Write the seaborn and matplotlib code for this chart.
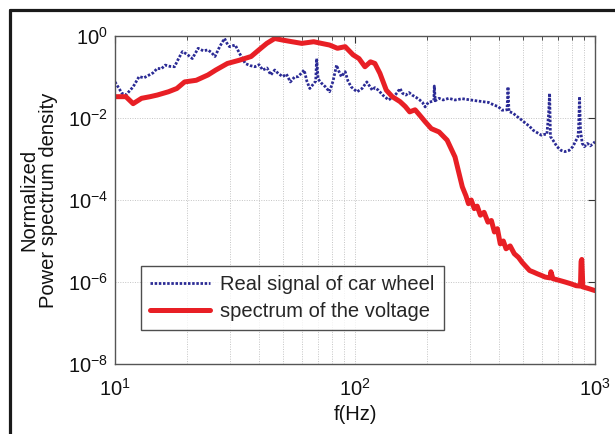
import numpy as np
import pandas as pd
import matplotlib
matplotlib.use("Agg")
import matplotlib.pyplot as plt
import seaborn as sns
from matplotlib.ticker import LogLocator, LogFormatterMathtext, NullFormatter

# Frequency (Hz) and log10 of normalized PSD for the measured wheel signal
wheel_freq = [10, 10.7, 11.1, 11.9, 12.6, 13.2, 13.9, 14.4, 15, 15.6, 16.2,
              16.9, 17.7, 18.4, 19.1, 20, 21, 22.2, 23.3, 24.4, 25.2, 26.1,
              27.3, 28.6, 29.3, 30, 31.7, 33, 34.9, 36.5, 38.3, 39.8, 41.3,
              43, 44.6, 46.3, 48, 50, 51.8, 53.8, 56, 58, 61.4, 63, 64.8, 68.6,
              69.2, 70.2, 72.5, 75.3, 78.3, 81, 83.8, 85.5, 87.7, 91, 93.5,
              96.4, 99, 102, 107, 112, 115, 118, 121, 125, 131, 138, 145, 150,
              154, 158, 163, 168, 173, 180, 186, 191, 196, 202, 208, 213, 214,
              216, 224, 233, 246, 261, 280, 303, 320, 340, 360, 381, 395, 410,
              430, 434, 438, 455, 475, 495, 514, 533, 553, 575, 598, 615, 630,
              640, 647, 652, 668, 695, 722, 750, 780, 808, 835, 850, 855, 862,
              870, 885, 903, 930, 955, 975, 1000]
wheel_logp = [-1.12, -1.40, -1.44, -1.24, -0.99, -1.02, -0.95, -0.90, -0.79,
              -0.80, -0.71, -0.74, -0.75, -0.55, -0.38, -0.45, -0.55, -0.30,
              -0.36, -0.34, -0.40, -0.50, -0.26, -0.06, -0.18, -0.26, -0.22,
              -0.42, -0.67, -0.72, -0.75, -0.70, -0.83, -0.78, -0.95, -0.83,
              -0.92, -0.99, -0.93, -1.12, -1.00, -0.99, -0.83, -1.10, -1.28,
              -1.10, -0.55, -1.05, -1.15, -1.24, -1.36, -1.10, -0.71, -0.85,
              -0.99, -0.87, -1.10, -1.24, -1.30, -1.36, -1.28, -1.12, -1.22,
              -1.32, -1.26, -1.32, -1.45, -1.56, -1.48, -1.38, -1.28, -1.40,
              -1.44, -1.38, -1.44, -1.50, -1.56, -1.62, -1.73, -1.62, -1.60,
              -1.58, -1.22, -1.58, -1.52, -1.56, -1.52, -1.56, -1.53, -1.56,
              -1.58, -1.60, -1.62, -1.69, -1.72, -1.81, -1.80, -1.24, -1.84,
              -1.88, -1.97, -2.05, -2.13, -2.20, -2.30, -2.36, -2.42, -2.40,
              -2.40, -1.95, -1.40, -2.45, -2.54, -2.70, -2.79, -2.82, -2.79,
              -2.70, -2.54, -2.45, -2.20, -1.48, -2.30, -2.62, -2.70, -2.62,
              -2.68, -2.64, -2.58]

# Frequency (Hz) and log10 of normalized PSD for the voltage spectrum
volt_freq = [10, 11.1, 11.9, 12.9, 14, 15, 16.7, 18.1, 19.5, 21.8, 24.4, 26.3,
             29.4, 33, 36.9, 40.5, 42.9, 46.3, 50, 54.7, 60, 67.3, 72.5, 78.3,
             84.5, 91, 98.2, 103.9, 110, 116, 121, 127, 135, 143, 154, 162,
             169, 178, 186, 196, 208, 224, 242, 261, 280, 290, 297, 305, 314,
             323, 333, 345, 358, 370, 381, 392, 403, 415, 426, 443, 461, 480,
             497, 515, 534, 555, 575, 598, 620, 650, 655, 668, 700, 750, 790,
             835, 870, 875, 881, 890, 940, 1000]
volt_logp = [-1.48, -1.48, -1.65, -1.52, -1.48, -1.44, -1.36, -1.28, -1.12,
             -1.08, -0.95, -0.83, -0.67, -0.59, -0.50, -0.30, -0.18, -0.06,
             -0.10, -0.14, -0.18, -0.14, -0.18, -0.22, -0.30, -0.26, -0.46,
             -0.55, -0.75, -0.63, -0.67, -0.91, -1.32, -1.48, -1.60, -1.72,
             -1.85, -1.80, -1.93, -2.09, -2.26, -2.34, -2.54, -2.95, -3.68,
             -3.90, -4.09, -4.00, -4.21, -4.15, -4.37, -4.30, -4.54, -4.50,
             -4.78, -4.70, -5.07, -5.00, -5.19, -5.12, -5.31, -5.40, -5.52,
             -5.62, -5.72, -5.76, -5.80, -5.84, -5.88, -5.90, -5.75, -5.92,
             -5.95, -6.00, -6.04, -6.09, -6.10, -5.50, -5.45, -6.12, -6.16,
             -6.21]

df_wheel = pd.DataFrame({"f": wheel_freq, "psd": np.power(10.0, wheel_logp)})
df_volt = pd.DataFrame({"f": volt_freq, "psd": np.power(10.0, volt_logp)})

sns.set_theme(style="white")
plt.rcParams["font.family"] = ["Liberation Sans", "DejaVu Sans"]
plt.rcParams["mathtext.fontset"] = "custom"
plt.rcParams["mathtext.rm"] = "Liberation Sans"
plt.rcParams["mathtext.default"] = "regular"
plt.rcParams["axes.unicode_minus"] = False

fig = plt.figure(figsize=(6.15, 4.34), dpi=100)
fig.patch.set_facecolor("white")
ax = fig.add_axes([115 / 615, 70 / 434, 480 / 615, 328 / 434])

blue = "#2b2b95"
red = "#e81f25"

sns.lineplot(data=df_wheel, x="f", y="psd", ax=ax, color=blue, lw=2.0,
             linestyle=(0, (0.9, 0.6)), label="Real signal of car wheel",
             estimator=None, sort=False)
sns.lineplot(data=df_volt, x="f", y="psd", ax=ax, color=red, lw=3.6,
             label="spectrum of the voltage", estimator=None, sort=False)

ax.set_xscale("log")
ax.set_yscale("log")
ax.set_xlim(10, 1000)
ax.set_ylim(1e-8, 1)

ax.xaxis.set_major_locator(LogLocator(base=10, numticks=5))
ax.xaxis.set_minor_locator(LogLocator(base=10, subs=np.arange(2, 10), numticks=20))
ax.xaxis.set_major_formatter(LogFormatterMathtext())
ax.xaxis.set_minor_formatter(NullFormatter())
ax.set_yticks([1e-8, 1e-6, 1e-4, 1e-2, 1e0])
ax.yaxis.set_major_formatter(LogFormatterMathtext())
ax.yaxis.set_minor_locator(plt.NullLocator())

ax.grid(True, which="major", color="#c4c4c4", linestyle=(0, (1, 1.5)), lw=0.7)
ax.grid(True, which="minor", axis="x", color="#c4c4c4", linestyle=(0, (1, 1.5)), lw=0.7)

ax.tick_params(which="both", direction="in", top=True, right=True,
               colors="#333333", labelcolor="#111111", labelsize=14.5)
ax.tick_params(which="major", length=5, width=0.8)
ax.tick_params(which="minor", length=3, width=0.6)
ax.tick_params(axis="x", pad=10)
ax.tick_params(axis="y", pad=5)
for s in ax.spines.values():
    s.set_color("#555555")
    s.set_linewidth(1.0)

ax.set_xlabel("f(Hz)", fontsize=14.5, color="#111111", labelpad=4)
ax.set_ylabel("Normalized\nPower spectrum density", fontsize=14.5,
              color="#111111", labelpad=7, linespacing=1.05)

leg = ax.legend(loc="lower left", bbox_to_anchor=(0.054, 0.104), fontsize=14.5,
                frameon=True, fancybox=False, edgecolor="#222222",
                handlelength=3.0, handletextpad=0.5, borderpad=0.45,
                labelspacing=0.4, borderaxespad=0)
leg.get_frame().set_linewidth(1.0)

# dark frame along the top and left edge of the figure
fig.add_artist(plt.Line2D([9.5 / 615, 1.0], [1 - 9.5 / 434, 1 - 9.5 / 434],
                          transform=fig.transFigure, color="#1a1a1a", lw=2.3))
fig.add_artist(plt.Line2D([9.5 / 615, 9.5 / 615], [0, 1 - 9.5 / 434],
                          transform=fig.transFigure, color="#1a1a1a", lw=2.3))

fig.savefig("out.png", dpi=100)
